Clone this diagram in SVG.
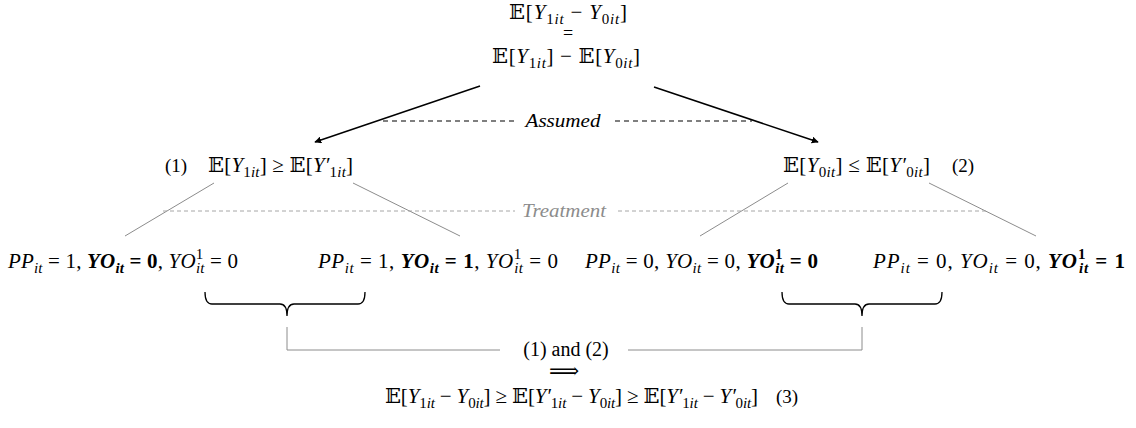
<svg xmlns="http://www.w3.org/2000/svg" width="1136" height="428" viewBox="0 0 1136 428">
<style>
  .m{font-family:"Liberation Serif","DejaVu Serif","DejaVu Sans",serif;font-size:21px;fill:#000}
  .n{font-family:"Liberation Serif",serif;font-size:19px;fill:#000}
  .i{font-style:italic}
  .s{font-size:15px}
  .b{font-weight:bold}
  .lbl{font-family:"Liberation Serif",serif;font-size:18px;font-style:italic}
  .arrow{stroke:#000;stroke-width:1.5;fill:none}
  .dash{stroke:#000;stroke-width:1.2;stroke-dasharray:5 4;fill:none}
  .gdash{stroke:#a6a6a6;stroke-width:1;stroke-dasharray:4 3;fill:none}
  .gline{stroke:#8c8c8c;stroke-width:1;fill:none}
  .brace{stroke:#000;stroke-width:1.3;fill:none}
</style>
<defs>
  <marker id="ah" viewBox="0 0 10 10" refX="9" refY="5" markerWidth="7" markerHeight="7" orient="auto" markerUnits="userSpaceOnUse">
    <path d="M0,0 L10,5 L0,10 z" fill="#000"/>
  </marker>
</defs>
<rect width="1136" height="428" fill="#fff"/>

<g id="connectors">
  <line class="arrow" x1="480" y1="86" x2="315" y2="142" marker-end="url(#ah)"/>
  <line class="arrow" x1="654" y1="87" x2="818" y2="142" marker-end="url(#ah)"/>
  <line class="gline" x1="214" y1="183" x2="125" y2="236"/>
  <line class="gline" x1="353" y1="183" x2="460" y2="236"/>
  <line class="gline" x1="788" y1="183" x2="700" y2="236"/>
  <line class="gline" x1="929" y1="183" x2="1036" y2="236"/>
  <path class="brace" d="M205,292 Q205,304 212,304 L280,304 Q287,304 287,316 Q287,304 294,304 L358,304 Q365,304 365,292"/>
  <path class="brace" d="M782,292 Q782,304 789,304 L855,304 Q862,304 862,316 Q862,304 869,304 L935,304 Q942,304 942,292"/>
  <path class="gline" d="M287,327 V350 H500"/>
  <path class="gline" d="M628,350 H862 V327"/>
</g>

<g id="assumed-label">
  <line class="dash" x1="383" y1="121" x2="515" y2="121"/>
  <line class="dash" x1="615" y1="121" x2="752" y2="121"/>
  <text class="lbl" x="563" y="127" text-anchor="middle" textLength="75" lengthAdjust="spacingAndGlyphs">Assumed</text>
</g>

<g id="treatment-label">
  <line class="gdash" x1="163" y1="211" x2="515" y2="211"/>
  <line class="gdash" x1="618" y1="211" x2="987" y2="211"/>
  <text class="lbl" x="564" y="217" text-anchor="middle" fill="#8c8c8c" textLength="84" lengthAdjust="spacingAndGlyphs">Treatment</text>
</g>

<g id="top">
  <text class="m" x="568" y="19" text-anchor="middle" textLength="118">𝔼[<tspan class="i">Y</tspan><tspan class="s" dy="5">1<tspan class="i">it</tspan></tspan><tspan dy="-5"> − </tspan><tspan class="i">Y</tspan><tspan class="s" dy="5">0<tspan class="i">it</tspan></tspan><tspan dy="-5">]</tspan></text>
  <text class="m" x="568" y="39" text-anchor="middle" style="font-size:18px">=</text>
  <text class="m" x="566" y="63" text-anchor="middle" textLength="148">𝔼[<tspan class="i">Y</tspan><tspan class="s" dy="5">1<tspan class="i">it</tspan></tspan><tspan dy="-5">] − 𝔼[</tspan><tspan class="i">Y</tspan><tspan class="s" dy="5">0<tspan class="i">it</tspan></tspan><tspan dy="-5">]</tspan></text>
</g>

<g id="cond1">
  <text class="n" x="165" y="172">(1)</text>
  <text class="m" x="208" y="172" textLength="145">𝔼[<tspan class="i">Y</tspan><tspan class="s" dy="5">1<tspan class="i">it</tspan></tspan><tspan dy="-5">] ≥ 𝔼[</tspan><tspan class="i">Y′</tspan><tspan class="s" dy="5">1<tspan class="i">it</tspan></tspan><tspan dy="-5">]</tspan></text>
</g>

<g id="cond2">
  <text class="m" x="783" y="172" textLength="147">𝔼[<tspan class="i">Y</tspan><tspan class="s" dy="5">0<tspan class="i">it</tspan></tspan><tspan dy="-5">] ≤ 𝔼[</tspan><tspan class="i">Y′</tspan><tspan class="s" dy="5">0<tspan class="i">it</tspan></tspan><tspan dy="-5">]</tspan></text>
  <text class="n" x="952" y="172">(2)</text>
</g>

<g id="leaf1">
  <text class="m" x="8" y="268" textLength="230"><tspan class="i">PP</tspan><tspan class="s i" dy="5">it</tspan><tspan dy="-5"> = 1, </tspan><tspan class="i b">YO</tspan><tspan class="s i b" dy="5">it</tspan><tspan class="b" dy="-5"> = 0</tspan><tspan>, </tspan><tspan class="i">YO</tspan><tspan class="s" dy="-9">1</tspan><tspan class="s i" dx="-7.5" dy="14">it</tspan><tspan dy="-5"> = 0</tspan></text>
</g>

<g id="leaf2">
  <text class="m" x="318" y="268" textLength="240"><tspan class="i">PP</tspan><tspan class="s i" dy="5">it</tspan><tspan dy="-5"> = 1, </tspan><tspan class="i b">YO</tspan><tspan class="s i b" dy="5">it</tspan><tspan class="b" dy="-5"> = 1</tspan><tspan>, </tspan><tspan class="i">YO</tspan><tspan class="s" dy="-9">1</tspan><tspan class="s i" dx="-7.5" dy="14">it</tspan><tspan dy="-5"> = 0</tspan></text>
</g>

<g id="leaf3">
  <text class="m" x="585" y="268" textLength="233"><tspan class="i">PP</tspan><tspan class="s i" dy="5">it</tspan><tspan dy="-5"> = 0, </tspan><tspan class="i">YO</tspan><tspan class="s i" dy="5">it</tspan><tspan dy="-5"> = 0, </tspan><tspan class="i b">YO</tspan><tspan class="s b" dy="-9">1</tspan><tspan class="s i b" dx="-7.5" dy="14">it</tspan><tspan class="b" dy="-5"> = 0</tspan></text>
</g>

<g id="leaf4">
  <text class="m" x="873" y="268" textLength="252"><tspan class="i">PP</tspan><tspan class="s i" dy="5">it</tspan><tspan dy="-5"> = 0, </tspan><tspan class="i">YO</tspan><tspan class="s i" dy="5">it</tspan><tspan dy="-5"> = 0, </tspan><tspan class="i b">YO</tspan><tspan class="s b" dy="-9">1</tspan><tspan class="s i b" dx="-7.5" dy="14">it</tspan><tspan class="b" dy="-5"> = 1</tspan></text>
</g>

<g id="combined">
  <text class="n" x="566" y="356" text-anchor="middle" style="font-size:20px">(1) and (2)</text>
  <text class="m" x="564" y="378" text-anchor="middle">⟹</text>
</g>

<g id="conclusion">
  <text class="m" x="385" y="403" textLength="373">𝔼[<tspan class="i">Y</tspan><tspan class="s" dy="5">1<tspan class="i">it</tspan></tspan><tspan dy="-5"> − </tspan><tspan class="i">Y</tspan><tspan class="s" dy="5">0<tspan class="i">it</tspan></tspan><tspan dy="-5">] ≥ 𝔼[</tspan><tspan class="i">Y′</tspan><tspan class="s" dy="5">1<tspan class="i">it</tspan></tspan><tspan dy="-5"> −  </tspan><tspan class="i">Y</tspan><tspan class="s" dy="5">0<tspan class="i">it</tspan></tspan><tspan dy="-5">] ≥ 𝔼[</tspan><tspan class="i">Y′</tspan><tspan class="s" dy="5">1<tspan class="i">it</tspan></tspan><tspan dy="-5"> − </tspan><tspan class="i">Y′</tspan><tspan class="s" dy="5">0<tspan class="i">it</tspan></tspan><tspan dy="-5">]</tspan></text>
  <text class="n" x="776" y="403">(3)</text>
</g>
</svg>
